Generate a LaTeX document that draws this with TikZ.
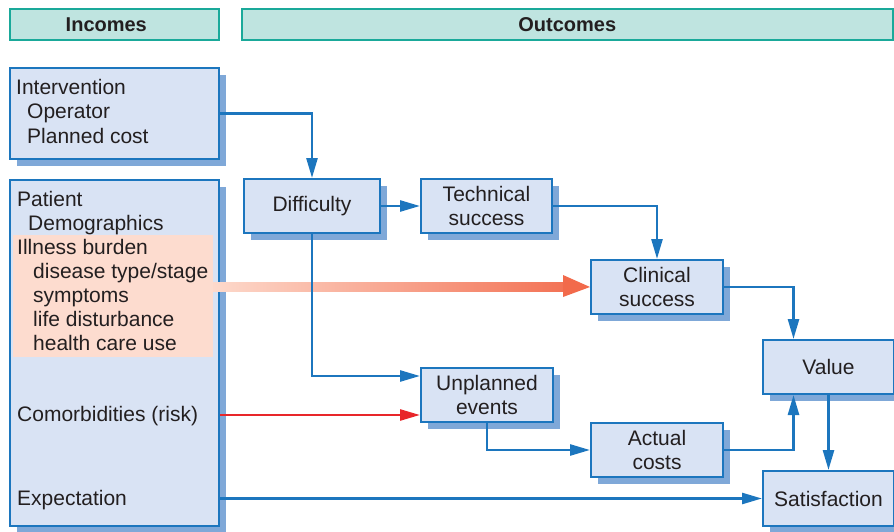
\documentclass[tikz,border=0pt]{standalone}
\usepackage{fontspec}
\setmainfont{Liberation Sans}
\usetikzlibrary{arrows.meta,shadows,calc}
\definecolor{boxfill}{HTML}{D9E3F4}
\definecolor{boxline}{HTML}{1C76BE}
\definecolor{shadowc}{HTML}{7FA8D8}
\definecolor{hdrfill}{HTML}{BFE4E0}
\definecolor{hdrline}{HTML}{1AA99A}
\definecolor{pinkfill}{HTML}{FDDCCF}
\definecolor{gradstart}{HTML}{FDD9CB}
\definecolor{arrowend}{HTML}{F26A4B}
\definecolor{redc}{HTML}{E8262A}
\definecolor{txtc}{HTML}{231F20}
\begin{document}
\begin{tikzpicture}[x=1pt,y=-1pt,
  box/.style={draw=boxline, fill=boxfill, line width=2pt,
    general shadow={fill=shadowc, shadow xshift=7pt, shadow yshift=-7pt},
    inner sep=0pt, align=center, anchor=north west,
    font=\fontsize{21}{24}\selectfont, text=txtc},
  hdr/.style={draw=hdrline, fill=hdrfill, line width=1.6pt, anchor=north west,
    minimum height=31pt, font=\bfseries\fontsize{20}{22}\selectfont, text=txtc},
  txt/.style={anchor=base west, inner sep=0pt, font=\fontsize{21}{24}\selectfont, text=txtc},
  conn/.style={draw=boxline, line width=2.6pt, -{Triangle[length=20pt,width=11pt]}},
  redconn/.style={draw=redc, line width=2.6pt, -{Triangle[length=20pt,width=11pt]}}]
\useasboundingbox (0,0) rectangle (894,532);
% headers
\node[hdr, minimum width=209pt] (inc) at (9,8) {\hspace*{-16pt}Incomes};
\node[hdr, minimum width=651pt] (out) at (241,8) {Outcomes};
% left boxes
\node[box, minimum width=209pt, minimum height=91pt] (interv) at (9,67) {};
\node[txt] (t1) at (16,95) {Intervention};
\node[txt] (t2) at (27,119) {Operator};
\node[txt] (t3) at (27,143) {Planned cost};
\node[box, minimum width=209pt, minimum height=346pt] (patient) at (9,179) {};
\fill[pinkfill] (13,235) rectangle (213,357);
\node[txt] (p1) at (17,206) {Patient};
\node[txt] (p2) at (28,230) {Demographics};
\node[txt] (p3) at (17,254) {Illness burden};
\node[txt] (p4) at (33,278) {disease type/stage};
\node[txt] (p5) at (33,302) {symptoms};
\node[txt] (p6) at (33,326) {life disturbance};
\node[txt] (p7) at (33,350) {health care use};
\node[txt] (p8) at (17,421) {Comorbidities (risk)};
\node[txt] (p9) at (17,505) {Expectation};
% outcome boxes
\node[box, minimum width=136pt, minimum height=54pt] (diff) at (243,178) {Difficulty};
\node[box, minimum width=131pt, minimum height=54pt] (tech) at (420,178) {Technical\\success};
\node[box, minimum width=132pt, minimum height=54pt] (clin) at (590,259) {Clinical\\success};
\node[box, minimum width=131pt, minimum height=54pt] (value) at (762,339) {Value};
\node[box, minimum width=132pt, minimum height=54pt] (unpl) at (420,367) {Unplanned\\events};
\node[box, minimum width=132pt, minimum height=54pt] (actual) at (590,422) {Actual\\costs};
\node[box, minimum width=131pt, minimum height=55pt] (sat) at (762,470) {Satisfaction};
% gradient arrow
\coordinate (gstart) at (213,286);
\shade[left color=gradstart, right color=arrowend!92!gradstart]
  (gstart |- 0,282) rectangle (564,291);
\fill[arrowend] (563,275) -- (clin.west) -- (563,297) -- cycle;
% connectors
\draw[conn] (interv.east) -| (diff.north);
\draw[conn] (diff.east) -- (tech.west);
\draw[conn] (tech.east) -| (clin.north);
\coordinate (unin) at ([yshift=19pt]unpl.west);
\draw[conn] (diff.south) |- (unin);
\coordinate (redin) at ([yshift=-20pt]unpl.west);
\draw[redconn] (redin -| patient.east) -- (redin);
\coordinate (vtop) at ([xshift=-35pt]value.north);
\coordinate (vbot) at ([xshift=-35pt]value.south);
\draw[conn] (clin.east) -| (vtop);
\draw[conn] (actual.east) -| (vbot);
\draw[conn] (unpl.south) |- (actual.west);
\draw[conn] (value.south) -- (sat.north);
\draw[conn] (sat.west -| patient.east) -- (sat.west);
\end{tikzpicture}
\end{document}
